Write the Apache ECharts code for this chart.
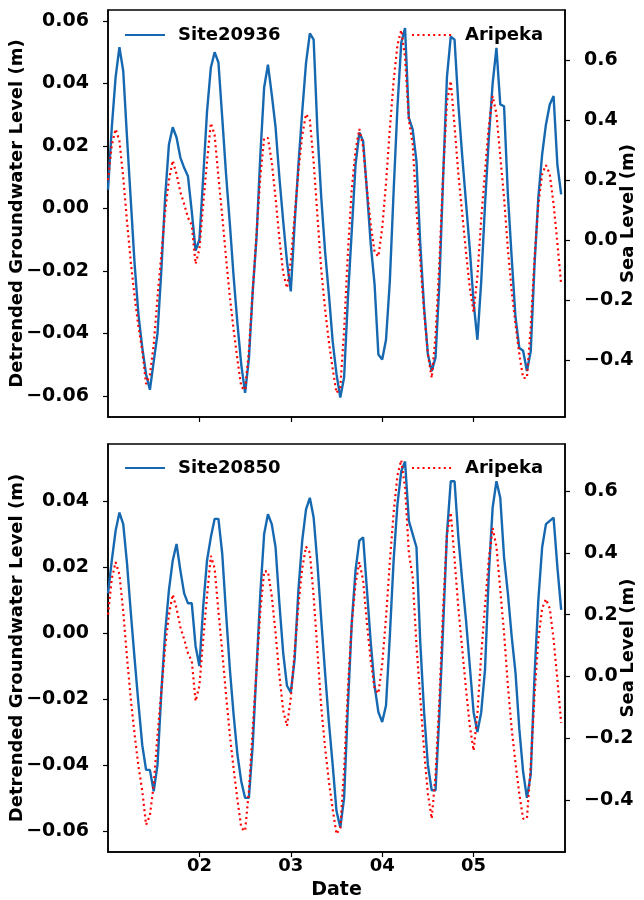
<!DOCTYPE html>
<html><head><meta charset="utf-8">
<script src="https://cdn.jsdelivr.net/npm/echarts@6/dist/echarts.min.js"></script>
<style>html,body{margin:0;padding:0;background:#fff}#c{width:644px;height:900px}</style>
</head><body><div id="c"></div>
<script>
// hourly samples starting 01 00:00
const hourIndex = Array.from({length: 120}, (_, i) => i);
const dayTickHours = [24, 48, 72, 96];
const dayTickLabels = ['02', '03', '04', '05'];
const leftTicksTop = [-0.06, -0.04, -0.02, 0, 0.02, 0.04, 0.06];
const leftTicksBottom = [-0.06, -0.04, -0.02, 0, 0.02, 0.04];
const rightTicks = [-0.4, -0.2, 0, 0.2, 0.4, 0.6];

const site20936 = [
 0.006, 0.026, 0.042, 0.0516, 0.044, 0.0226, 0.0023, -0.018, -0.034, -0.0445,
 -0.053, -0.058, -0.049, -0.040, -0.020, 0.0035, 0.0205, 0.026, 0.0227, 0.0163,
 0.013, 0.0103, -0.001, -0.0135, -0.010, 0.010, 0.031, 0.045, 0.050, 0.0467,
 0.029, 0.011, -0.005, -0.022, -0.037, -0.050, -0.059, -0.048, -0.0265, -0.0093,
 0.017, 0.0387, 0.046, 0.0365, 0.026, 0.010, -0.004, -0.017, -0.0265, -0.005,
 0.014, 0.031, 0.0466, 0.056, 0.054, 0.0247, 0.0035, -0.0137, -0.0275, -0.0425,
 -0.053, -0.0605, -0.054, -0.0285, -0.0073, 0.014, 0.0243, 0.0215, 0.0055, -0.0115,
 -0.0243, -0.0467, -0.0483, -0.042, -0.0233, 0.0055, 0.0323, 0.053, 0.0577, 0.029,
 0.0253, 0.0151, -0.0115, -0.0317, -0.0467, -0.052, -0.0477, -0.0243, 0.010, 0.042,
 0.055, 0.054, 0.0333, 0.017, 0.002, -0.013, -0.030, -0.042, -0.0233, 0.0013,
 0.0226, 0.040, 0.0514, 0.0333, 0.0327, 0.0045, -0.0157, -0.0347, -0.0446, -0.0455,
 -0.052, -0.0457, -0.018, 0.0035, 0.0173, 0.0269, 0.0333, 0.036, 0.014, 0.0045
];

const site20850 = [
 0.012, 0.022, 0.031, 0.0365, 0.033, 0.021, 0.006, -0.008, -0.0215, -0.034,
 -0.0415, -0.0415, -0.048, -0.040, -0.018, 0.0, 0.013, 0.022, 0.027, 0.019,
 0.012, 0.009, 0.009, -0.004, -0.010, 0.008, 0.022, 0.029, 0.0346, 0.0346,
 0.024, 0.006, -0.011, -0.025, -0.037, -0.045, -0.050, -0.050, -0.034, -0.011,
 0.012, 0.030, 0.036, 0.033, 0.026, 0.009, -0.006, -0.016, -0.018, -0.008,
 0.013, 0.028, 0.0375, 0.041, 0.035, 0.021, 0.004, -0.012, -0.027, -0.040,
 -0.054, -0.059, -0.050, -0.022, 0.003, 0.019, 0.028, 0.029, 0.013, -0.003,
 -0.016, -0.024, -0.027, -0.022, -0.001, 0.022, 0.039, 0.049, 0.052, 0.034,
 0.030, 0.026, -0.003, -0.024, -0.040, -0.0477, -0.0477, -0.025, 0.002, 0.030,
 0.046, 0.046, 0.029, 0.016, 0.004, -0.010, -0.024, -0.030, -0.024, -0.011,
 0.018, 0.038, 0.046, 0.041, 0.023, 0.012, -0.001, -0.012, -0.029, -0.042,
 -0.050, -0.043, -0.013, 0.010, 0.026, 0.033, 0.034, 0.035, 0.020, 0.007
];

const aripeka = [
 0.20, 0.317, 0.37, 0.33, 0.21, 0.06, -0.075, -0.19, -0.29, -0.37,
 -0.48, -0.45, -0.35, -0.19, -0.05, 0.095, 0.20, 0.265, 0.22, 0.16,
 0.12, 0.075, 0.05, -0.08, -0.03, 0.12, 0.26, 0.39, 0.35, 0.21,
 0.08, -0.06, -0.19, -0.30, -0.40, -0.49, -0.50, -0.37, -0.17, 0.02,
 0.21, 0.34, 0.34, 0.26, 0.14, 0.005, -0.11, -0.16, -0.07, 0.08,
 0.23, 0.35, 0.42, 0.40, 0.26, 0.08, -0.10, -0.23, -0.34, -0.43,
 -0.51, -0.49, -0.30, -0.04, 0.17, 0.30, 0.37, 0.31, 0.17, 0.05,
 -0.04, -0.055, 0.04, 0.19, 0.37, 0.53, 0.65, 0.70, 0.61, 0.40,
 0.32, 0.10, -0.07, -0.24, -0.38, -0.46, -0.32, -0.08, 0.22, 0.46,
 0.53, 0.38, 0.22, 0.09, -0.04, -0.16, -0.24, -0.12, 0.07, 0.23,
 0.38, 0.48, 0.42, 0.28, 0.14, -0.03, -0.17, -0.28, -0.38, -0.46,
 -0.46, -0.29, -0.06, 0.12, 0.22, 0.25, 0.22, 0.12, -0.01, -0.15
];

const pair = arr => hourIndex.map((h, i) => [h, arr[i]]);
const fmt2 = v => (v < 0 ? '\u2212' : '') + Math.abs(v).toFixed(2);
const fmt1 = v => (v < 0 ? '\u2212' : '') + Math.abs(v).toFixed(1);
const FONT = 'DejaVu Sans';
const BLUE = '#1669b1';
const RED = '#ff0000';
const tickFont = {color: '#000', fontFamily: FONT, fontWeight: 'bold', fontSize: 19};

function xAxis(gi, showLabels) {
  return {
    type: 'value', gridIndex: gi, min: 0, max: 120,
    axisLine: {show: true, onZero: false, lineStyle: {color: '#000', width: 1.5}},
    axisTick: {show: true, length: 5, lineStyle: {color: '#000', width: 1.2}, customValues: dayTickHours},
    axisLabel: Object.assign({show: showLabels, margin: 5, customValues: dayTickHours,
      formatter: v => dayTickLabels[dayTickHours.indexOf(v)]}, tickFont, {fontSize: 18}),
    splitLine: {show: false},
    name: showLabels ? 'Date' : '', nameLocation: 'middle', nameGap: 29, nameMoveOverlap: false,
    nameTextStyle: {color: '#000', fontFamily: FONT, fontWeight: 'bold', fontSize: 19}
  };
}
function yAxis(gi, pos, min, max, ticks, fmt, name, gap) {
  return {
    type: 'value', gridIndex: gi, position: pos, min: min, max: max,
    axisLine: {show: true, onZero: false, lineStyle: {color: '#000', width: 1.5}},
    axisTick: {show: true, length: 5, lineStyle: {color: '#000', width: 1.2}, customValues: ticks},
    axisLabel: Object.assign({margin: 19, customValues: ticks, formatter: fmt}, tickFont),
    splitLine: {show: false},
    name: name, nameLocation: 'middle', nameGap: gap, nameRotate: 90, nameMoveOverlap: false,
    nameTextStyle: {color: '#000', fontFamily: FONT, fontWeight: 'bold', fontSize: 18}
  };
}
function legend(name, left, top) {
  return {
    data: [name], left: left, top: top, padding: 0, itemWidth: 40, itemHeight: 12,
    itemStyle: {opacity: 0},
    textStyle: {color: '#000', fontFamily: FONT, fontWeight: 'bold', fontSize: 18, padding: [0, 0, 0, 8]}
  };
}
const GWL = 'Detrended Groundwater Level (m)';
const SL = 'Sea Level (m)';

const chart = echarts.init(document.getElementById('c'), null, {renderer: 'canvas'});
chart.setOption({
  animation: false,
  backgroundColor: '#fff',
  grid: [
    {left: 108, top: 10, width: 457, height: 407, show: true, borderColor: '#000', borderWidth: 1.5,
     containLabel: false, outerBoundsMode: 'none'},
    {left: 108, top: 444, width: 457, height: 408, show: true, borderColor: '#000', borderWidth: 1.5,
     containLabel: false, outerBoundsMode: 'none'}
  ],
  legend: [
    legend('Site20936', 124, 26), legend('Aripeka', 411, 26),
    legend('Site20850', 124, 459), legend('Aripeka ', 411, 459)
  ],
  xAxis: [xAxis(0, false), xAxis(1, true)],
  yAxis: [
    yAxis(0, 'left', -0.0667, 0.0635, leftTicksTop, fmt2, GWL, 82),
    yAxis(0, 'right', -0.59, 0.767, rightTicks, fmt1, SL, 54),
    yAxis(1, 'left', -0.0664, 0.0573, leftTicksBottom, fmt2, GWL, 82),
    yAxis(1, 'right', -0.568, 0.752, rightTicks, fmt1, SL, 54)
  ],
  series: [
    {name: 'Site20936', type: 'line', xAxisIndex: 0, yAxisIndex: 0, data: pair(site20936),
     symbol: 'none', lineStyle: {color: BLUE, width: 2.4}, itemStyle: {color: BLUE}, z: 3},
    {name: 'Aripeka', type: 'line', xAxisIndex: 0, yAxisIndex: 1, data: pair(aripeka),
     symbol: 'none', lineStyle: {color: RED, width: 2.2, type: [2, 3.3]}, itemStyle: {color: RED}, z: 4},
    {name: 'Site20850', type: 'line', xAxisIndex: 1, yAxisIndex: 2, data: pair(site20850),
     symbol: 'none', lineStyle: {color: BLUE, width: 2.4}, itemStyle: {color: BLUE}, z: 3},
    {name: 'Aripeka ', type: 'line', xAxisIndex: 1, yAxisIndex: 3, data: pair(aripeka),
     symbol: 'none', lineStyle: {color: RED, width: 2.2, type: [2, 3.3]}, itemStyle: {color: RED}, z: 4}
  ]
});
</script></body></html>
